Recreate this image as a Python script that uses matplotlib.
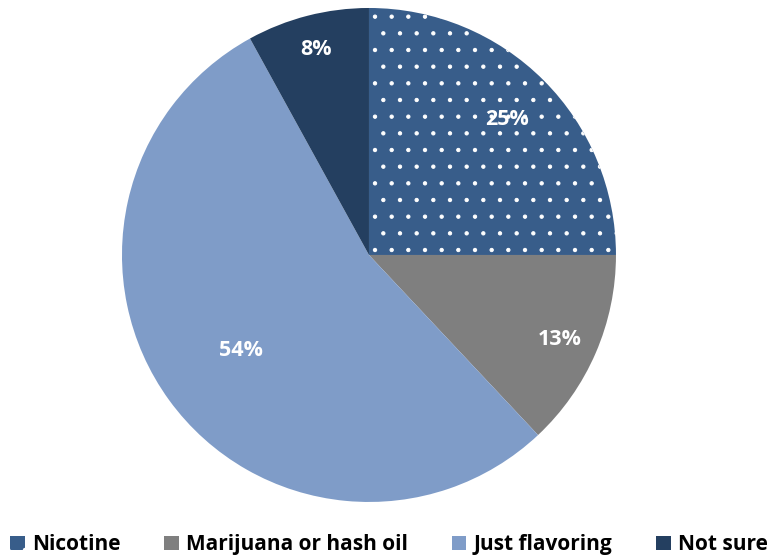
import numpy as np
import matplotlib
matplotlib.use("Agg")
import matplotlib.pyplot as plt

# data
labels = ["Nicotine", "Marijuana or hash oil", "Just flavoring", "Not sure"]
values = [25, 13, 54, 8]
colors = ["#385D8A", "#7F7F7F", "#7F9CC8", "#243F60"]
hatches = [".", None, None, None]
label_dist = [0.79, 0.84, 0.64, 0.87]

plt.rcParams["font.family"] = ["Open Sans", "DejaVu Sans"]
plt.rcParams["hatch.color"] = "white"
plt.rcParams["hatch.linewidth"] = 0.7

fig = plt.figure(figsize=(7.75, 5.58), dpi=100)
ax = fig.add_axes([0.1574, 0.1004, 0.6374, 0.8853])

wedges, texts = ax.pie(values, colors=colors, startangle=90, counterclock=False,
                       radius=1.0, wedgeprops=dict(linewidth=0))
for w, h in zip(wedges, hatches):
    if h:
        w.set_hatch(h)

# percentage labels
for w, v, d in zip(wedges, values, label_dist):
    mid = np.deg2rad((w.theta1 + w.theta2) / 2)
    ax.text(d * np.cos(mid), d * np.sin(mid) - 0.01, f"{v}%", ha="center",
            va="center", color="white", fontsize=15.5, fontweight="bold")

ax.set_xlim(-1, 1)
ax.set_ylim(-1, 1)
ax.set_aspect("equal")
ax.axis("off")

leg = fig.legend(wedges, labels, loc="center", bbox_to_anchor=(0.502, 0.024),
                 ncol=4, frameon=False, handlelength=0.7,
                 handleheight=0.7, handletextpad=0.35, columnspacing=2.1,
                 prop=dict(weight="bold", size=15))

fig.savefig("out.png", dpi=100)
